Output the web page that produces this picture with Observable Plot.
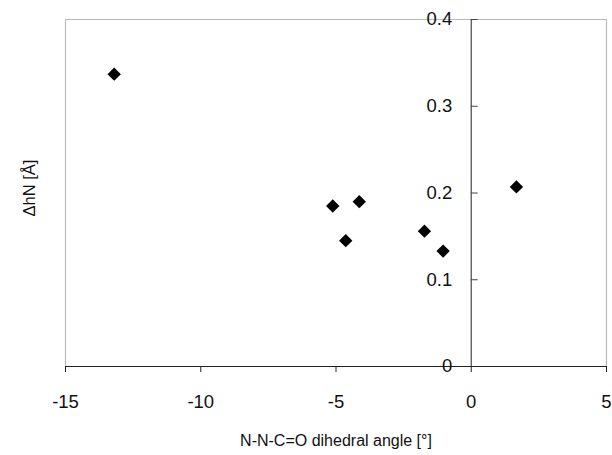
<!DOCTYPE html>
<html>
<head>
<meta charset="utf-8">
<script src="https://cdn.jsdelivr.net/npm/d3@7"></script>
<script src="https://cdn.jsdelivr.net/npm/@observablehq/plot@0.6"></script>
<style>
body { margin: 0; background: #fff; }
</style>
</head>
<body>
<div id="chart"></div>
<script>
const angles = [-13.2, -5.12, -4.14, -4.64, -1.73, -1.04, 1.67];
const deltaHN = [0.337, 0.185, 0.190, 0.145, 0.156, 0.133, 0.207];
const xTicks = [-15, -10, -5, 0, 5];
const yTicks = [0, 0.1, 0.2, 0.3, 0.4];
const xLabel = "N-N-C=O dihedral angle [°]";
const yLabel = "ΔhN [Å]";

const data = angles.map((a, i) => ({angle: a, dh: deltaHN[i]}));
const font = "'Liberation Sans', Arial, sans-serif";
const tickShape = {draw(context, l) { context.moveTo(0, 0); context.lineTo(0, -l); }};

const chart = Plot.plot({
  width: 612,
  height: 455,
  marginLeft: 65,
  marginRight: 6,
  marginTop: 19,
  marginBottom: 89,
  style: {fontFamily: font, background: "#fff"},
  x: {domain: [-15, 5]},
  y: {domain: [0, 0.4], axis: null},
  marks: [
    Plot.frame({stroke: "#777", strokeDasharray: "1,1", strokeWidth: 1.2}),
    Plot.ruleY([0], {stroke: "#222", strokeWidth: 1.2}),
    Plot.ruleX([0], {stroke: "#555", strokeWidth: 1.3}),
    Plot.axisX({ticks: xTicks, tickSize: 6, tickPadding: 22, fontSize: 18.5, label: null, tickFormat: d => String(d).replace("−", "-"), stroke: "#222", color: "#111"}),
    Plot.vector(yTicks.slice(1), {x: () => 0, y: d => d, rotate: 90, length: 6, anchor: "start", shape: tickShape, stroke: "#444", strokeWidth: 1.2}),
    Plot.text(yTicks, {x: () => 0, y: d => d, text: d => d === 0 ? "0" : d.toFixed(1), textAnchor: "end", dx: -19, fontSize: 18.5, fill: "#111"}),
    Plot.dot(data, {x: "angle", y: "dh", symbol: "diamond2", r: 6, fill: "#000", stroke: "none"}),
    Plot.text([xLabel], {frameAnchor: "bottom", dy: 74, lineAnchor: "middle", fontSize: 16, fill: "#111"}),
    Plot.text([yLabel], {frameAnchor: "left", rotate: -90, dx: -36, dy: -5, fontSize: 16.5, fill: "#111", textAnchor: "middle", lineAnchor: "middle"})
  ]
});
document.getElementById("chart").appendChild(chart);
</script>
</body>
</html>
